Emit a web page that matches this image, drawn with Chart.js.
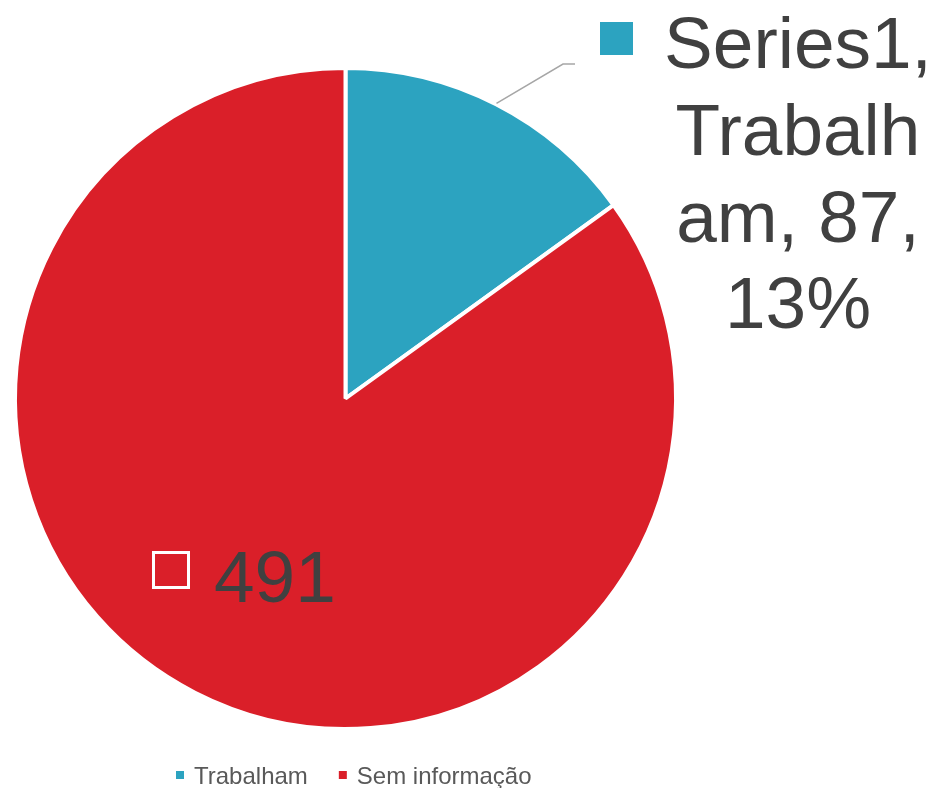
<!DOCTYPE html>
<html>
<head>
<meta charset="utf-8">
<script src="https://cdn.jsdelivr.net/npm/chart.js@4.4.1/dist/chart.umd.min.js"></script>
<style>
  html, body { margin: 0; padding: 0; background: #ffffff; }
  #wrap { width: 941px; height: 788px; }
</style>
</head>
<body>
<div id="wrap"><canvas id="chart" width="941" height="788"></canvas></div>
<script>
// Chart data
const seriesName = 'Series1';
const categories = ['Trabalham', 'Sem informação'];
const values = [87, 491];
const percentLabels = ['13%', ''];
const colors = ['#2CA3C0', '#DA1F29'];

const FONT = '"Liberation Sans", Arial, sans-serif';
const TEXT = '#404040';

// Data labels, leader line and legend drawn on top of the pie
const pieDecor = {
  id: 'pieDecor',
  afterDatasetsDraw(chart) {
    const ctx = chart.ctx;
    const meta = chart.getDatasetMeta(0);
    const a0 = meta.data[0];
    ctx.save();

    // leader line from the first slice to its label
    const mid = (a0.startAngle + a0.endAngle) / 2;
    const r0 = a0.outerRadius + 1;
    ctx.strokeStyle = '#A6A6A6';
    ctx.lineWidth = 1.5;
    ctx.beginPath();
    ctx.moveTo(a0.x + Math.cos(mid) * r0, a0.y + Math.sin(mid) * r0);
    ctx.lineTo(563, 64);
    ctx.lineTo(575, 64);
    ctx.stroke();

    // label for the first slice: marker + wrapped text
    ctx.fillStyle = colors[0];
    ctx.fillRect(600, 22, 33, 33);
    const cat = categories[0];
    const lines = [
      seriesName + ',',
      cat.slice(0, 7),
      cat.slice(7) + ', ' + values[0] + ',',
      percentLabels[0]
    ];
    const baselines = [68, 155, 242, 328];
    ctx.font = '73px ' + FONT;
    ctx.fillStyle = TEXT;
    ctx.textAlign = 'center';
    ctx.textBaseline = 'alphabetic';
    lines.forEach((t, i) => ctx.fillText(t, 798, baselines[i]));

    // label for the second slice: outlined marker + value
    ctx.strokeStyle = '#ffffff';
    ctx.lineWidth = 3;
    ctx.strokeRect(153.5, 552.5, 35, 35);
    ctx.textAlign = 'left';
    ctx.fillStyle = TEXT;
    ctx.fillText(String(values[1]), 214, 602);

    // legend
    ctx.font = '24px ' + FONT;
    let x = 176;
    categories.forEach((c, i) => {
      ctx.fillStyle = colors[i];
      ctx.fillRect(x, 771, 8, 8);
      ctx.fillStyle = '#595959';
      ctx.fillText(c, x + 18, 784);
      x += 18 + ctx.measureText(c).width + 31;
    });

    ctx.restore();
  }
};

new Chart(document.getElementById('chart'), {
  type: 'pie',
  data: {
    labels: categories,
    datasets: [{
      data: values,
      backgroundColor: colors,
      borderColor: '#ffffff',
      borderWidth: 4,
      hoverOffset: 0
    }]
  },
  options: {
    responsive: false,
    animation: false,
    events: [],
    layout: { padding: { left: 13, right: 263, top: 66, bottom: 57 } },
    plugins: {
      legend: { display: false },
      tooltip: { enabled: false }
    }
  },
  plugins: [pieDecor]
});
</script>
</body>
</html>
